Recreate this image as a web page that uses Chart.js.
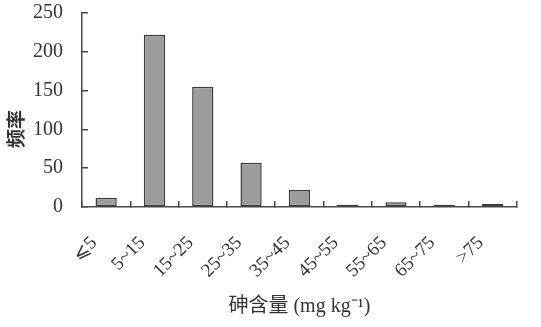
<!DOCTYPE html>
<html>
<head>
<meta charset="utf-8">
<script src="https://cdn.jsdelivr.net/npm/chart.js@4.4.0/dist/chart.umd.min.js"></script>
<style>
  html, body { margin: 0; padding: 0; background: #fff; }
  #wrap { width: 541px; height: 327px; }
</style>
</head>
<body>
<div id="wrap"><canvas id="arsenic-chart" width="541" height="327"></canvas></div>
<script>
// arsenic content classes (mg/kg) and how many samples fall in each
const ranges = ["⩽5", "5~15", "15~25", "25~35", "35~45", "45~55", "55~65", "65~75", ">75"];
const counts = [12, 222, 155, 57, 22, 3, 6, 3, 4];
const yTicks = [0, 50, 100, 150, 200, 250];

const axisColor = "#4a4a4a";
const textColor = "#333333";
const serif = "'Liberation Serif', 'Noto Sans CJK SC', serif";

const data = {
  labels: ranges,
  datasets: [{
    label: "频率",
    data: counts,
    backgroundColor: "#9c9c9c",
    borderColor: "#3c3c3c",
    borderWidth: 1.5,
    borderSkipped: false,
    barPercentage: 0.44,
    categoryPercentage: 1.0
  }]
};

const config = {
  type: 'bar',
  data: data,
  options: {
    responsive: false,
    animation: false,
    layout: {
      padding: { top: 13, right: 23, bottom: 0, left: 0 }
    },
    scales: {
      x: {
        grid: {
          offset: true,
          drawOnChartArea: false,
          tickLength: -6,     // ticks point up into the plot
          color: axisColor,
          lineWidth: 1.5
        },
        border: { color: axisColor, width: 1.5 },
        ticks: {
          maxRotation: 45,
          minRotation: 45,
          padding: 31,
          labelOffset: -12,
          color: textColor,
          font: { family: serif, size: 19 }
        },
        title: {
          display: true,
          text: "砷含量 (mg kg⁻¹)",
          color: textColor,
          font: { family: serif, size: 20 },
          padding: { top: 4, bottom: 8 }
        },
        afterFit: function (scale) { scale.height = 120; }
      },
      y: {
        min: 0,
        max: 250,
        afterBuildTicks: function (scale) {
          scale.ticks = yTicks.map(v => ({ value: v }));
        },
        grid: {
          drawOnChartArea: false,
          tickLength: -6,
          color: axisColor,
          lineWidth: 1.5
        },
        border: { color: axisColor, width: 1.5 },
        ticks: {
          padding: 25,
          color: textColor,
          font: { family: serif, size: 20 }
        },
        title: {
          display: true,
          text: "频率\u3000\u3000",
          color: textColor,
          font: { family: "'Noto Sans CJK SC', sans-serif", size: 19, weight: 'bold' },
          padding: { top: 4, bottom: 4 }
        },
        afterFit: function (scale) {
          // keep the big tick padding from pushing the plot down
          scale.width = 82;
          scale.paddingTop = 10;
          scale.paddingBottom = 10;
        }
      }
    },
    plugins: {
      legend: { display: false },
      tooltip: { enabled: false }
    }
  }
};

new Chart(document.getElementById("arsenic-chart"), config);
</script>
</body>
</html>
